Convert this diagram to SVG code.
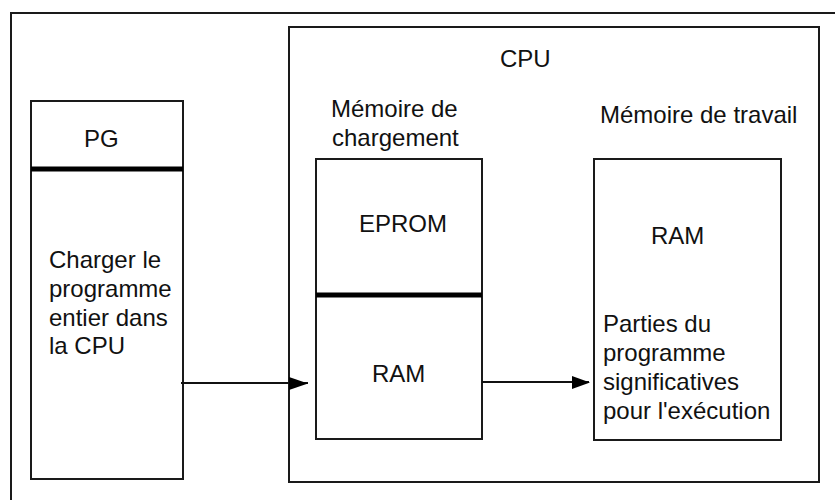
<svg xmlns="http://www.w3.org/2000/svg" width="835" height="500" viewBox="0 0 835 500">
  <style>
    .box { fill: none; stroke: #1a1a1a; stroke-width: 2; }
    .sep { stroke: #000; stroke-width: 5; }
    .conn { stroke: #111; stroke-width: 2; fill: none; }
    text { font-family: "Liberation Sans", Arial, sans-serif; font-size: 24px; fill: #111; }
  </style>
  <defs>
    <marker id="arrow" markerWidth="10" markerHeight="6" refX="10" refY="3" orient="auto" markerUnits="userSpaceOnUse" viewBox="0 0 10 6">
      <path d="M0,0 L10,3 L0,6 Z" fill="#000"/>
    </marker>
  </defs>
  <rect width="835" height="500" fill="#fff"/>
  <rect id="frame" x="11" y="13" width="840" height="500" class="box"/>

  <g id="pg">
    <rect x="31" y="101" width="152" height="378" class="box"/>
    <line x1="31" y1="169" x2="183" y2="169" class="sep"/>
    <text x="84" y="147">PG</text>
    <text x="49" y="268">Charger le</text>
    <text x="49" y="297">programme</text>
    <text x="49" y="326">entier dans</text>
    <text x="49" y="354">la CPU</text>
  </g>

  <g id="cpu">
    <rect x="289" y="27" width="530" height="455" class="box"/>
    <text x="500" y="67">CPU</text>
  </g>

  <g id="load-memory">
    <text x="331" y="117">Mémoire de</text>
    <text x="332" y="146">chargement</text>
    <rect x="316" y="159" width="166" height="280" class="box"/>
    <line x1="316" y1="295" x2="482" y2="295" class="sep"/>
    <text x="359" y="232">EPROM</text>
    <text x="372" y="382">RAM</text>
  </g>

  <g id="work-memory">
    <text x="600" y="123">Mémoire de travail</text>
    <rect x="594" y="159" width="187" height="281" class="box"/>
    <text x="651" y="244">RAM</text>
    <text x="603" y="332">Parties du</text>
    <text x="603" y="361">programme</text>
    <text x="603" y="390">significatives</text>
    <text x="603" y="419">pour l'exécution</text>
  </g>

  <g id="connectors">
    <line x1="181" y1="383" x2="308" y2="383" class="conn"/>
    <path d="M289,377 L308,383.5 L289,390 Z" fill="#000"/>
    <line x1="482" y1="382" x2="589" y2="382" class="conn"/>
    <path d="M572,376 L590,382.5 L572,389 Z" fill="#000"/>
  </g>
</svg>
